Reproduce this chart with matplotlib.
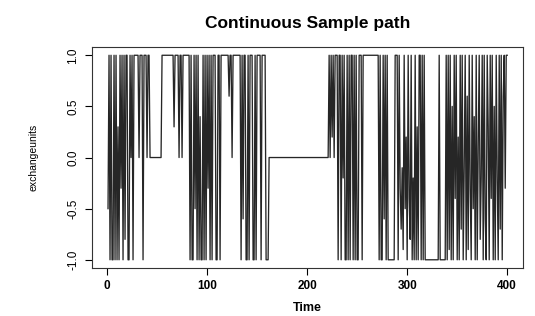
import matplotlib.pyplot as plt
import numpy as np

plt.rcParams["font.family"] = ["Liberation Sans", "DejaVu Sans"]

# run-length reading of the sample path: level held for `run` time steps
levels = [
    # t 1-36
    -0.5, 1, -1, 1, -1, 1, -1, 1, -1, 0.3, -1, 1, -0.3, 1, -1, 1, -0.8, 1, -1, 1,
    0, 1, -1, 1, 0, 1, -1,
    # t 37-82
    1, 0, 1, 0, 1, 0.3, 1, 0, 1, 0, 1,
    # t 83-161
    -1, 1, -1, 1, -0.5, 1, -1, 1, -1, 0.4, -1, 1, -1, 1, -1, 1, -0.3, 1, -1, 1,
    -1, 1, -1, 1, -1, 1, 0.6, 1, 0, 1, -1, 1, -0.6, 1, -1, 1, -1, 1, -1, 1,
    -1, 1, -1, 1, -1,
    # t 162-221 flat
    0,
    # t 222-230
    1, 0, 1, 0.2, 1, 0, 1,
    # t 231-257
    -1, 1, -1, 1, -0.2, 1, -1, 1, -1, 1, -1, 1, -1, 1, -1, 1, -1, 1, -1, 1,
    # t 258-271
    1,
    # t 272-292
    -1, 1, -1, 1, -0.6, 1, -1, 1, -1, -1, 1, -1, 1,
    # t 293-313
    -0.3, -0.7, -0.1, -0.9, 1, -0.5, 0.2, -1, 1, -0.4, -0.8, 1, -1, -0.2, -1, 1,
    -1, 0.3, -1, 1,
    # t 314-339
    -1, 1, -1, 1, -1, 1, -1, 1,
    # t 340-400
    -1, 1, -0.9, 1, -1, 0.5, -1, 1, -0.4, 1,
    -1, 0.2, -1, 1, -0.7, 1, -1, -0.1, 1, -1,
    0.6, -0.9, 1, -0.3, -1, 1, -0.5, 0.4, -1, 1,
    -1, 0.1, 1, -0.8, -0.2, 1, -1, 1, -0.6, -1,
    1, 0.3, -1, 1, -0.4, 1, -1, 0.5, -1, 1,
    -0.2, -1, 1, -0.7, 1, -1, 0.6, 1, -0.3, 1, 1,
]
runs = [
    1, 1, 1, 1, 2, 1, 1, 1, 1, 1, 1, 1, 1, 1, 1, 1, 1, 2, 2, 1,
    1, 1, 1, 5, 1, 3, 1,
    3, 1, 2, 12, 12, 1, 4, 1, 2, 1, 7,
    1, 1, 2, 1, 1, 1, 1, 1, 1, 1, 2, 1, 1, 1, 1, 1, 1, 1, 1, 1,
    1, 3, 2, 2, 1, 8, 1, 2, 1, 8, 1, 1, 1, 2, 2, 1, 1, 3, 2, 1,
    1, 4, 1, 4, 3,
    60,
    1, 1, 1, 1, 1, 1, 3,
    1, 2, 1, 1, 1, 1, 2, 1, 1, 1, 1, 2, 1, 1, 1, 1, 2, 3, 1, 2,
    14,
    1, 1, 2, 1, 1, 1, 1, 1, 1, 6, 3, 1, 1,
    1, 1, 1, 1, 1, 1, 1, 1, 1, 1, 1, 1, 1, 1, 1, 1, 1, 1, 1, 2,
    1, 1, 1, 1, 14, 1, 6, 1,
] + [1] * 61

values = np.repeat(levels, runs)
time = np.arange(1, len(values) + 1)

fig = plt.figure(figsize=(5.35, 3.16), dpi=100)
ax = fig.add_axes([0.172, 0.152, 0.806, 0.699])
ax.plot(time, values, color="#262626", lw=0.95)

ax.set_xlim(-15, 416)
ax.set_ylim(-1.08, 1.08)
ax.set_xticks([0, 100, 200, 300, 400])
ax.set_yticks([-1.0, -0.5, 0.0, 0.5, 1.0])
ax.set_yticklabels(["-1.0", "-0.5", "0.0", "0.5", "1.0"], rotation=90, va="center")
ax.tick_params(direction="out", length=5, width=0.8, labelsize=8.5, pad=4)
for lab in ax.get_xticklabels():
    lab.set_fontweight("bold")
for sp in ax.spines.values():
    sp.set_linewidth(0.8)
    sp.set_color("#333333")

ax.set_title("Continuous Sample path", fontsize=12.5, fontweight="bold", pad=14)
ax.set_xlabel("Time", fontsize=9, fontweight="bold", labelpad=7)
ax.set_ylabel("exchangeunits", fontsize=7.5, labelpad=21)

fig.savefig("out.png", dpi=100)
